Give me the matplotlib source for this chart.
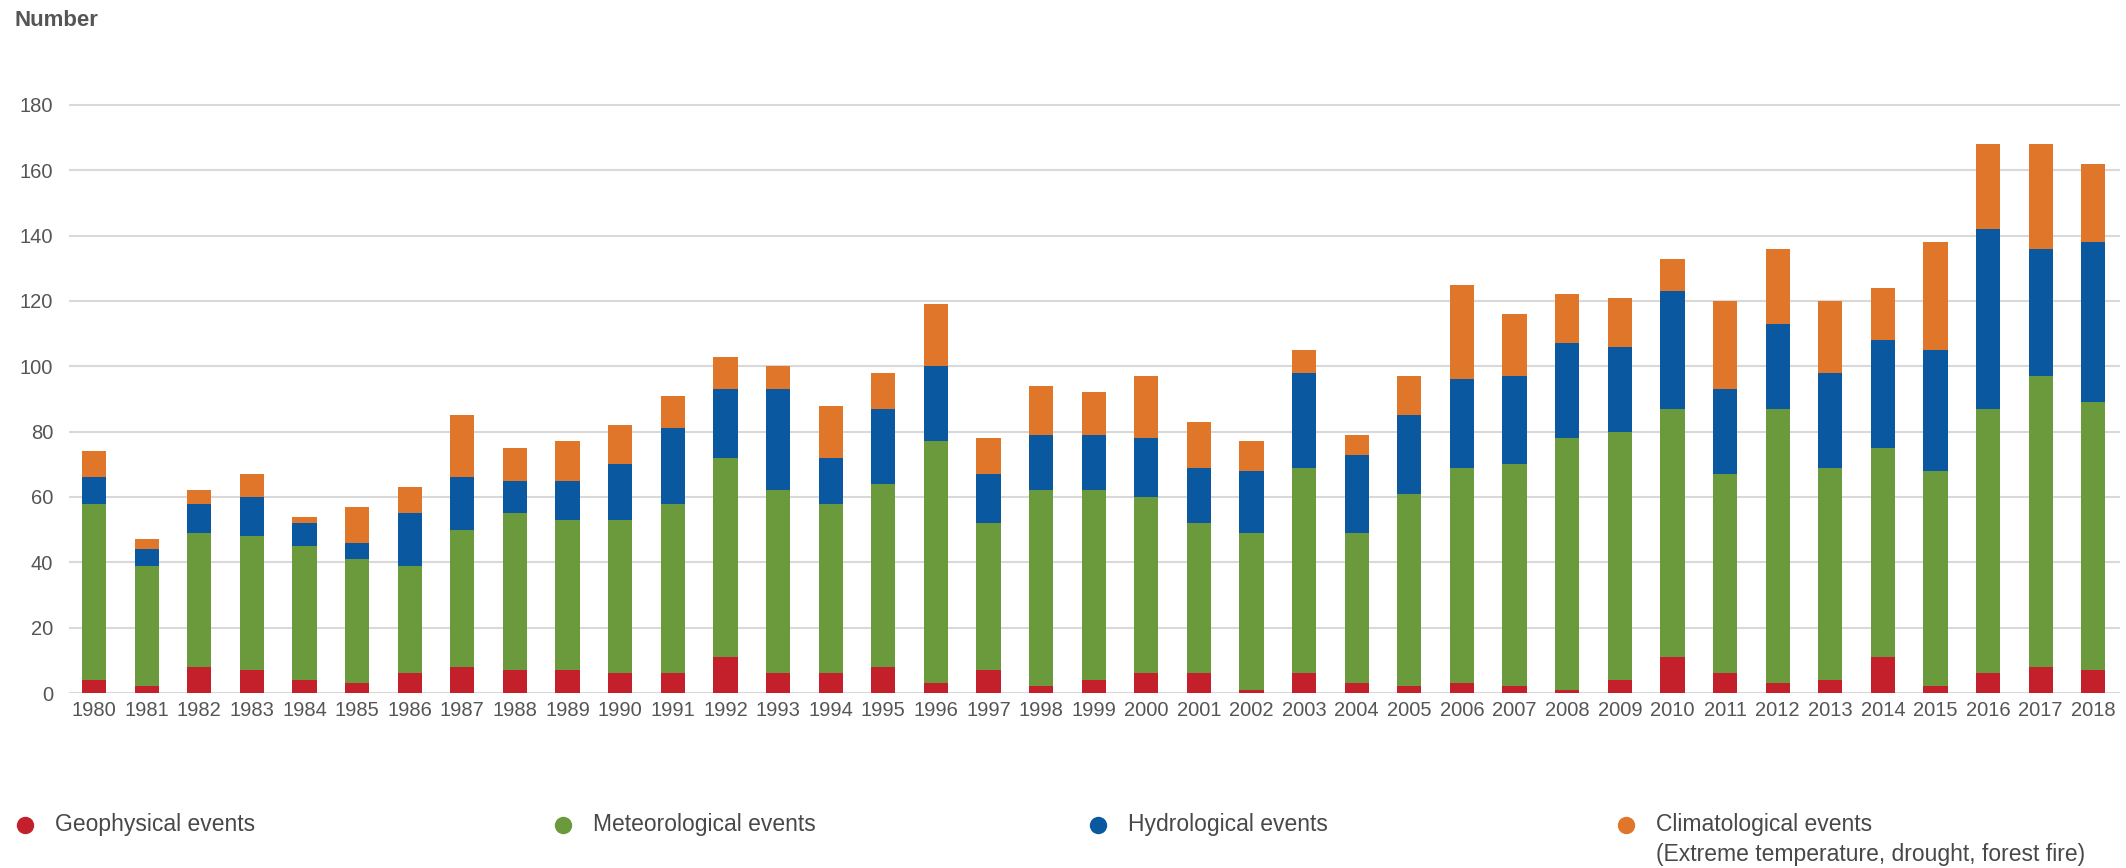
import matplotlib
matplotlib.use("Agg")
import matplotlib.pyplot as plt
import numpy as np
from matplotlib.lines import Line2D

years = list(range(1980, 2019))

geophysical = [4, 2, 8, 7, 4, 3, 6, 8, 7, 7, 6, 6, 11, 6, 6, 8, 3, 7, 2, 4,
               6, 6, 1, 6, 3, 2, 3, 2, 1, 4, 11, 6, 3, 4, 11, 2, 6, 8, 7]
meteorological = [54, 37, 41, 41, 41, 38, 33, 42, 48, 46, 47, 52, 61, 56, 52, 56, 74, 45, 60, 58,
                  54, 46, 48, 63, 46, 59, 66, 68, 77, 76, 76, 61, 84, 65, 64, 66, 81, 89, 82]
hydrological = [8, 5, 9, 12, 7, 5, 16, 16, 10, 12, 17, 23, 21, 31, 14, 23, 23, 15, 17, 17,
                18, 17, 19, 29, 24, 24, 27, 27, 29, 26, 36, 26, 26, 29, 33, 37, 55, 39, 49]
climatological = [8, 3, 4, 7, 2, 11, 8, 19, 10, 12, 12, 10, 10, 7, 16, 11, 19, 11, 15, 13,
                  19, 14, 9, 7, 6, 12, 29, 19, 15, 15, 10, 27, 23, 22, 16, 33, 26, 32, 24]

series_names = ["Geophysical events", "Meteorological events", "Hydrological events",
                "Climatological events"]
colors = ["#c3202b", "#6a9a3b", "#0a58a0", "#e0762a"]

plt.rcParams['font.family'] = ['Liberation Sans', 'DejaVu Sans']
text_col = "#48484a"

fig = plt.figure(figsize=(21.26, 8.68), dpi=100)
ax = fig.add_axes([0.0325, 0.2016, 0.9645, 0.685])

x = np.arange(len(years))
bottom = np.zeros(len(years))
for vals, col in zip([geophysical, meteorological, hydrological, climatological], colors):
    ax.bar(x, vals, width=0.46, bottom=bottom, color=col, zorder=3)
    bottom += np.array(vals)

ax.set_xlim(-0.475, 38.5)
ax.set_ylim(0, 182)
ax.set_yticks(range(0, 181, 20))
ax.set_xticks(x)
ax.set_xticklabels([str(y) for y in years])
ax.grid(axis="y", color="#d9d9d9", linewidth=1.5, zorder=0)
for s in ax.spines.values():
    s.set_visible(False)
ax.tick_params(axis="both", length=0, labelsize=14.5, labelcolor="#555555")
ax.tick_params(axis="x", pad=6)
ax.tick_params(axis="y", pad=11.5)

fig.text(0.007, 1 - 20 / 868, "Number", fontsize=16, fontweight="bold", color="#555555",
         va="center", ha="left")

# legend drawn by hand to match the spread-out layout
leg_x = [0.0118, 0.2648, 0.5165, 0.7648]
leg_y = 1 - 825 / 868
for lx, name, col in zip(leg_x, series_names, colors):
    fig.add_artist(Line2D([lx], [leg_y], marker="o", markersize=11.5, color=col,
                          linestyle="none", transform=fig.transFigure))
    fig.text(lx + 0.0142, leg_y, name, fontsize=16.5, color=text_col, va="center", ha="left")
fig.text(leg_x[3] + 0.0142, 1 - 855 / 868, "(Extreme temperature, drought, forest fire)",
         fontsize=16.5, color=text_col, va="center", ha="left")

fig.savefig("out.png", dpi=100, facecolor="white")
